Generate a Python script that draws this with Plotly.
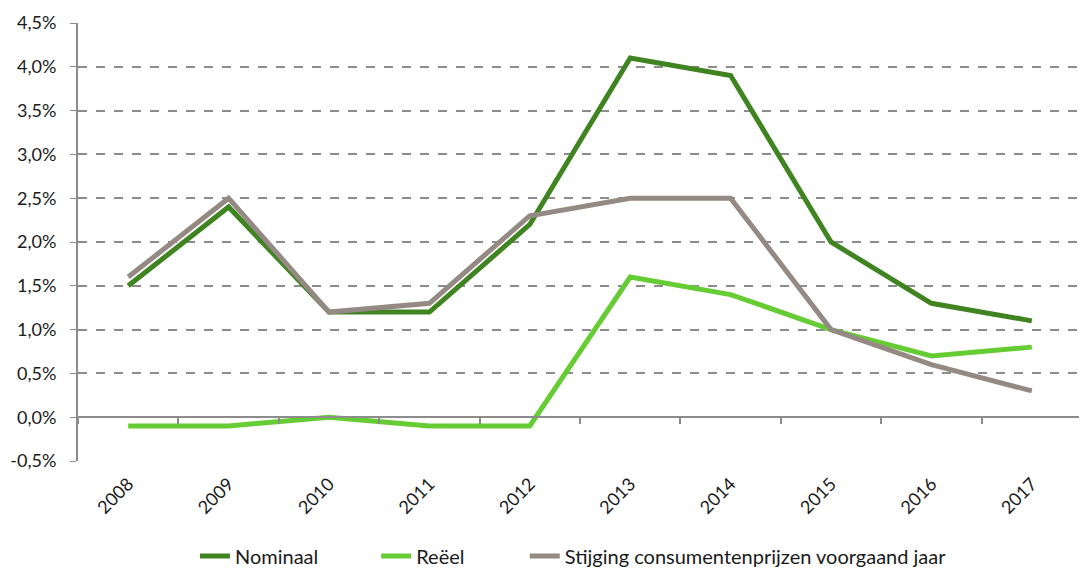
import plotly.graph_objects as go

years = ["2008", "2009", "2010", "2011", "2012", "2013", "2014", "2015", "2016", "2017"]
nominaal = [1.5, 2.4, 1.2, 1.2, 2.2, 4.1, 3.9, 2.0, 1.3, 1.1]
reeel = [-0.1, -0.1, 0.0, -0.1, -0.1, 1.6, 1.4, 1.0, 0.7, 0.8]
stijging = [1.6, 2.5, 1.2, 1.3, 2.3, 2.5, 2.5, 1.0, 0.6, 0.3]

y_ticks = [-0.5, 0.0, 0.5, 1.0, 1.5, 2.0, 2.5, 3.0, 3.5, 4.0, 4.5]
y_labels = [f"{v:.1f}%".replace(".", ",") for v in y_ticks]

FONT = "Lato, 'Open Sans', sans-serif"
names = ["Nominaal", "Reëel", "Stijging consumentenprijzen voorgaand jaar"]
colors = ["#3F8420", "#66CC33", "#948A83"]
series = [nominaal, reeel, stijging]
legend_ids = ["legend", "legend2", "legend3"]
legend_x = [0.1165, 0.297, 0.445]

fig = go.Figure()
for name, vals, col, lg in zip(names, series, colors, legend_ids):
    fig.add_trace(go.Scatter(x=years, y=vals, name=name, mode="lines",
                             line=dict(color=col, width=5), legend=lg))

# overlay axis: line at zero with boundary ticks
fig.add_trace(go.Scatter(x=years, y=[None]*len(years), xaxis="x2", showlegend=False,
                         hoverinfo="skip"))

legend_common = dict(orientation="h", xanchor="left", y=-0.217, yanchor="middle",
                     font=dict(size=20), bgcolor="rgba(0,0,0,0)")

# page body has an 8px margin, so the figure is 8px smaller and margins shifted
fig.update_layout(
    width=1079, height=562,
    margin=dict(l=70, r=5, t=15, b=109, autoexpand=False),
    paper_bgcolor="white", plot_bgcolor="white",
    font=dict(family=FONT, size=18, color="#1a1a1a"),
    xaxis=dict(type="category", showline=False, showgrid=False, ticks="",
               tickangle=-45, tickfont=dict(size=18), zeroline=False,
               ticklabelstandoff=8, range=[-0.5, 9.5]),
    xaxis2=dict(type="category", overlaying="x", anchor="free", position=0.1,
                showline=True, linecolor="#8C8C8C", linewidth=2,
                ticks="outside", ticklen=6, tickcolor="#8C8C8C", tickwidth=1.5,
                tickson="boundaries", showticklabels=False, showgrid=False,
                range=[-0.5, 9.5]),
    yaxis=dict(range=[-0.5, 4.5], tickvals=y_ticks, ticktext=y_labels,
               showgrid=True, gridcolor="#8C8C8C", gridwidth=1.5, griddash="dash",
               zeroline=False, showline=True, linecolor="#8C8C8C", linewidth=2,
               ticks="outside", ticklen=6, tickcolor="#8C8C8C",
               ticklabelstandoff=10, tickfont=dict(size=18)),
    legend=dict(x=legend_x[0], **legend_common),
    legend2=dict(x=legend_x[1], **legend_common),
    legend3=dict(x=legend_x[2], **legend_common),
)

fig.write_html("out.html")
